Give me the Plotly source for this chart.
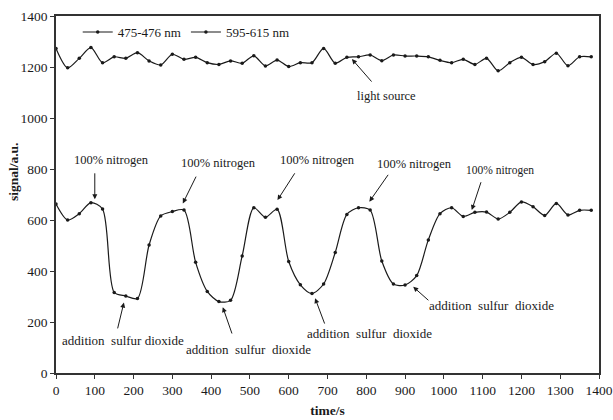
import plotly.graph_objects as go

# time axis (s)
time_s = [0, 30, 60, 90, 120, 150, 180, 210, 240, 270, 300, 330, 360, 390, 420,
          450, 480, 510, 540, 570, 600, 630, 660, 690, 720, 750, 780, 810, 840, 870,
          900, 930, 960, 990, 1020, 1050, 1080, 1110, 1140, 1170, 1200, 1230, 1260,
          1290, 1320, 1350, 1380]

# light source channel (top)
signal_475 = [1273, 1197, 1234, 1276, 1217, 1240, 1234, 1256, 1224, 1208, 1250, 1230,
              1238, 1217, 1210, 1224, 1215, 1244, 1204, 1227, 1202, 1217, 1217, 1273,
              1215, 1238, 1240, 1247, 1225, 1247, 1243, 1243, 1240, 1226, 1217, 1230,
              1210, 1234, 1185, 1217, 1238, 1210, 1221, 1254, 1205, 1240, 1240]

# sensor emission channel (bottom)
signal_595 = [663, 600, 625, 668, 643, 316, 302, 292, 502, 616, 633, 639, 434, 320, 280,
              285, 459, 648, 611, 642, 437, 346, 312, 349, 473, 622, 648, 639, 439, 349,
              345, 382, 522, 625, 648, 614, 630, 631, 604, 630, 671, 652, 618, 665, 620,
              638, 638]

series_names = ["475-476 nm", "595-615 nm"]

x_ticks = list(range(0, 1401, 100))
y_ticks = list(range(0, 1401, 200))

FONT = "Liberation Serif, Times New Roman, serif"
INK = "#1a1a1a"

fig = go.Figure()
for name, vals in zip(series_names, [signal_475, signal_595]):
    fig.add_trace(go.Scatter(
        x=time_s, y=vals, name=name, mode="lines+markers",
        line=dict(color=INK, width=1.2, shape="spline", smoothing=0.8),
        marker=dict(color=INK, size=3.5),
    ))

# (text, text_x, text_y, tail_x, tail_y, head_x, head_y, size)
notes = [
    ("100% nitrogen", 144, 835, 100, 789, 100, 681, 12.5),
    ("100% nitrogen", 418, 822, 363, 776, 327, 665, 12.5),
    ("100% nitrogen", 674, 837, 618, 789, 571, 678, 12.5),
    ("100% nitrogen", 924, 818, 859, 783, 808, 672, 12.5),
    ("100% nitrogen", 1144, 793, 1097, 754, 1072, 639, 11.5),
    ("addition\u00a0\u00a0sulfur dioxide", 172, 127, 158, 169, 175, 276, 13),
    ("addition\u00a0\u00a0sulfur\u00a0\u00a0dioxide", 496, 93, 455, 149, 430, 258, 13),
    ("addition\u00a0\u00a0sulfur\u00a0\u00a0dioxide", 809, 153, 694, 188, 668, 293, 13),
    ("addition\u00a0\u00a0sulfur\u00a0\u00a0dioxide", 1124, 264, 964, 280, 921, 338, 13),
    ("light source", 853, 1086, 817, 1137, 763, 1231, 12.5),
]

for text, tx, ty, ax_, ay_, hx, hy, fs in notes:
    fig.add_annotation(x=tx, y=ty, xref="x", yref="y", text=text, showarrow=False,
                       font=dict(family=FONT, size=fs, color=INK),
                       xanchor="center", yanchor="middle")
    fig.add_annotation(x=hx, y=hy, xref="x", yref="y", ax=ax_, ay=ay_,
                       axref="x", ayref="y", text="", showarrow=True,
                       arrowhead=2, arrowsize=1, arrowwidth=1, arrowcolor=INK)

fig.add_annotation(text="<b>signal/a.u.</b>", xref="paper", yref="paper",
                   x=-0.079, y=0.563, textangle=-90, showarrow=False,
                   font=dict(family=FONT, size=13.5, color=INK),
                   xanchor="center", yanchor="middle")

fig.update_layout(
    width=613, height=420,
    margin=dict(l=56, r=14, t=16, b=47, autoexpand=False),
    paper_bgcolor="white", plot_bgcolor="white",
    font=dict(family=FONT, size=13, color=INK),
    showlegend=True,
    legend=dict(orientation="h", x=0.04, y=0.955, xanchor="left", yanchor="middle",
                bgcolor="rgba(0,0,0,0)", font=dict(family=FONT, size=13, color=INK),
                itemwidth=30, tracegroupgap=0),
    xaxis=dict(range=[0, 1400], tickvals=x_ticks, showgrid=False, zeroline=False,
               automargin=False,
               showline=True, mirror=True, linecolor="#333333", linewidth=1.6,
               ticks="outside", ticklen=4, tickcolor="#333333",
               tickfont=dict(family=FONT, size=13.5, color=INK),
               title=dict(text="<b>time/s</b>", standoff=9,
                          font=dict(family=FONT, size=13.5, color=INK))),
    yaxis=dict(range=[0, 1400], tickvals=y_ticks, showgrid=False, zeroline=False,
               automargin=False,
               showline=True, mirror=True, linecolor="#333333", linewidth=1.6,
               ticks="outside", ticklen=4, tickcolor="#333333",
               tickfont=dict(family=FONT, size=13.5, color=INK)),
)

fig.write_html("out.html",
               config={"displayModeBar": False},
               post_script="document.body.style.margin='0';document.body.style.padding='0';")
